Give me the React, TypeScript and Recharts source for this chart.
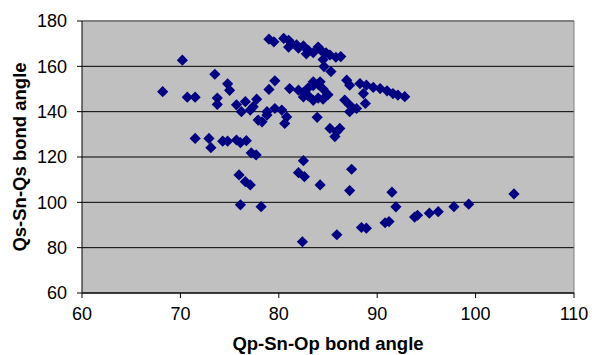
import React from 'react';
import { ScatterChart, Scatter, XAxis, YAxis, CartesianGrid, ReferenceLine } from 'recharts';

const xValues: number[] = [
  68.2, 70.2, 70.7, 71.5, 71.5, 72.9, 73.1, 73.5, 73.75, 73.75, 74.3, 74.8, 74.8, 75.0, 75.7, 76.1, 76.7,
  75.7, 76.6, 76.2, 77.1, 77.75, 77.9, 78.3, 78.8, 79.6, 80.3, 80.6, 78.8, 80.8, 77.2, 77.7, 75.96, 76.6,
  77.1, 76.1, 78.2, 77.4, 79.0, 79.6, 79.0, 79.5, 80.5, 81.0, 81.3, 81.8, 82.0, 82.5, 83.0, 83.5, 84.0,
  84.3, 84.8, 85.2, 85.8, 86.3, 81.0, 82.8, 84.5, 84.6, 85.3, 81.1, 82.0, 82.5, 83.0, 83.5, 83.5, 84.2,
  84.0, 84.5, 83.0, 84.0, 83.5, 84.5, 85.0, 82.5, 83.9, 85.2, 85.9, 86.2, 85.7, 86.9, 87.2, 88.25, 88.9,
  89.6, 90.3, 91.0, 91.6, 92.1, 92.8, 88.6, 86.7, 87.2, 87.9, 87.2, 88.8, 82.5, 82.0, 82.6, 87.4, 84.2,
  87.2, 91.5, 91.9, 82.4, 85.9, 88.4, 88.9, 90.8, 91.2, 93.8, 94.1, 95.3, 96.2, 97.8, 99.3, 103.9,
];

const yValues: number[] = [
  148.8, 162.7, 146.4, 146.4, 128.2, 128.2, 124.1, 156.5, 146.0, 143.2, 127.0, 127.0, 152.3, 149.4, 127.5, 126.3, 127.2,
  143.0, 144.4, 140.0, 140.7, 145.5, 136.3, 135.5, 138.5, 141.4, 140.7, 134.8, 140.0, 137.7, 121.8, 120.9, 112.1, 109.1,
  107.7, 98.9, 98.1, 142.2, 149.8, 153.6, 172.0, 170.8, 172.3, 171.5, 170.0, 169.5, 168.0, 169.0, 167.0, 166.0, 168.5,
  167.0, 166.0, 165.0, 164.0, 164.3, 168.5, 165.5, 163.0, 159.9, 157.7, 150.2, 149.5, 148.5, 150.5, 151.5, 153.2, 153.2,
  152.0, 150.0, 147.0, 146.0, 145.0, 145.5, 147.5, 146.5, 137.5, 132.6, 131.2, 132.6, 129.0, 153.9, 151.7, 152.4, 151.7,
  150.7, 150.2, 149.2, 148.0, 147.3, 146.6, 148.0, 145.1, 142.9, 141.4, 140.0, 143.6, 118.4, 113.1, 111.3, 114.6, 107.7,
  105.2, 104.5, 98.0, 82.6, 85.7, 88.9, 88.6, 91.0, 91.5, 93.5, 94.3, 95.2, 95.9, 98.1, 99.2, 103.7,
];

const xTicks: number[] = [60, 70, 80, 90, 100, 110];
const yTicks: number[] = [60, 80, 100, 120, 140, 160, 180];

const data = xValues.map((x, i) => ({ x, y: yValues[i] }));

const Diamond = (props: any) => {
  const { cx, cy } = props;
  if (cx == null || cy == null) return null;
  const r = 5.6;
  return <path d={`M${cx},${cy - r}L${cx + r},${cy}L${cx},${cy + r}L${cx - r},${cy}Z`} fill="#000080" />;
};

const font = 'Liberation Sans, Arial, sans-serif';

export default function App() {
  return (
    <div style={{ position: 'absolute', left: 0, top: 0, background: '#fff' }}>
      <ScatterChart width={592} height={355} margin={{ top: 21, right: 18, bottom: 22, left: 22 }}>
        <CartesianGrid vertical={false} stroke="#000" strokeOpacity={1} fill="#C0C0C0" fillOpacity={1} />
        <XAxis
          type="number"
          dataKey="x"
          domain={[60, 110]}
          ticks={xTicks}
          height={40}
          tickSize={5}
          tickMargin={9}
          stroke="#000"
          tick={{ fill: '#000', fontSize: 18, fontFamily: font }}
          label={{ value: 'Qp-Sn-Op bond angle', position: 'insideBottom', offset: -17, fill: '#000', fontSize: 18.5, fontWeight: 'bold', fontFamily: font }}
        />
        <YAxis
          type="number"
          dataKey="y"
          domain={[60, 180]}
          ticks={yTicks}
          width={60}
          tickSize={5}
          tickMargin={10}
          stroke="#000"
          tick={{ fill: '#000', fontSize: 18, fontFamily: font }}
          label={{ value: 'Qs-Sn-Qs bond angle', angle: -90, position: 'insideLeft', offset: -3, style: { textAnchor: 'middle' }, fill: '#000', fontSize: 18.5, fontWeight: 'bold', fontFamily: font }}
        />
        <ReferenceLine y={180} stroke="#808080" strokeWidth={2} />
        <ReferenceLine x={110} stroke="#808080" strokeWidth={1} />
        <Scatter data={data} shape={<Diamond />} isAnimationActive={false} />
      </ScatterChart>
    </div>
  );
}
